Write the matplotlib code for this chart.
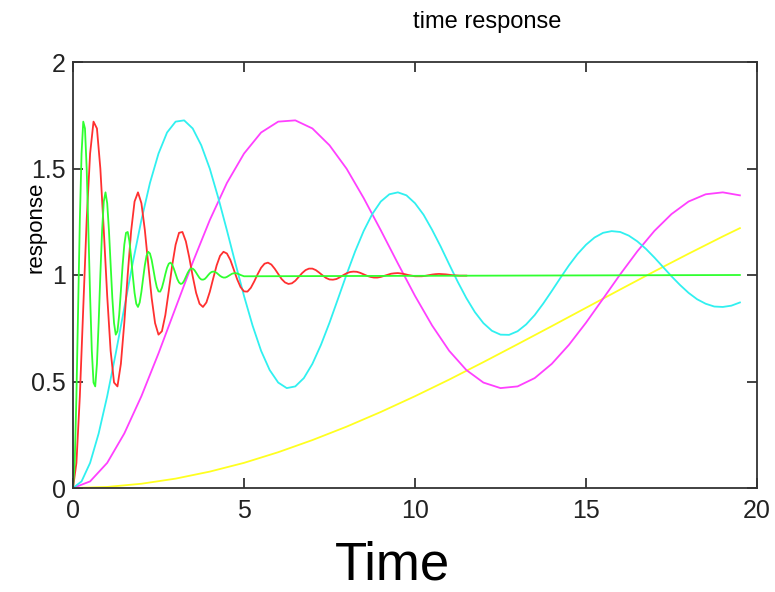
import numpy as np
import matplotlib
matplotlib.use('Agg')
import matplotlib.pyplot as plt

plt.rcParams['font.family'] = ['Liberation Sans', 'DejaVu Sans']

# values
red_t = np.round(np.arange(0, 11.55, 0.1), 2)
red_y = [0.000, 0.118, 0.431, 0.846, 1.258, 1.570, 1.720, 1.688, 1.499, 1.210,
         0.902, 0.644, 0.495, 0.477, 0.583, 0.776, 1.003, 1.207, 1.345, 1.388,
         1.337, 1.212, 1.050, 0.892, 0.774, 0.720, 0.736, 0.812, 0.925, 1.045,
         1.142, 1.198, 1.202, 1.158, 1.082, 0.994, 0.916, 0.865, 0.850, 0.871,
         0.921, 0.984, 1.045, 1.090, 1.109, 1.101, 1.071, 1.026, 0.980, 0.943,
         0.923, 0.922, 0.940, 0.970, 1.004, 1.034, 1.053, 1.058, 1.049, 1.029,
         1.005, 0.981, 0.965, 0.958, 0.961, 0.973, 0.991, 1.009, 1.023, 1.030,
         1.030, 1.023, 1.011, 0.998, 0.986, 0.979, 0.978, 0.981, 0.989, 0.999,
         1.008, 1.014, 1.016, 1.015, 1.010, 1.003, 0.996, 0.991, 0.988, 0.988,
         0.991, 0.996, 1.001, 1.006, 1.008, 1.009, 1.007, 1.004, 1.000, 0.997,
         0.994, 0.994, 0.994, 0.996, 0.999, 1.002, 1.004, 1.005, 1.004, 1.003,
         1.001, 0.999, 0.998, 0.997, 0.997, 0.997]

green_t = list(np.round(np.arange(0, 5.025, 0.05), 2)) + [19.5]
green_y = [0.000, 0.118, 0.431, 0.846, 1.258, 1.570, 1.720, 1.688, 1.499, 1.210,
           0.902, 0.644, 0.495, 0.477, 0.583, 0.776, 1.003, 1.207, 1.345, 1.388,
           1.337, 1.212, 1.050, 0.892, 0.774, 0.720, 0.736, 0.812, 0.925, 1.045,
           1.142, 1.198, 1.202, 1.158, 1.082, 0.994, 0.916, 0.865, 0.850, 0.871,
           0.921, 0.984, 1.045, 1.090, 1.109, 1.101, 1.071, 1.026, 0.980, 0.943,
           0.923, 0.922, 0.940, 0.970, 1.004, 1.034, 1.053, 1.058, 1.049, 1.029,
           1.005, 0.981, 0.965, 0.958, 0.961, 0.973, 0.991, 1.009, 1.023, 1.030,
           1.030, 1.023, 1.011, 0.998, 0.986, 0.979, 0.978, 0.981, 0.989, 0.999,
           1.008, 1.014, 1.016, 1.015, 1.010, 1.003, 0.996, 0.991, 0.988, 0.988,
           0.991, 0.996, 1.001, 1.006, 1.008, 1.009, 1.007, 1.004, 1.000, 0.997,
           0.994, 1.000]

cyan_t = np.arange(0, 19.6, 0.25)
cyan_y = [0.000, 0.031, 0.118, 0.256, 0.431, 0.632, 0.846, 1.059, 1.258, 1.432,
          1.570, 1.669, 1.720, 1.726, 1.688, 1.609, 1.499, 1.361, 1.210, 1.054,
          0.902, 0.763, 0.644, 0.554, 0.495, 0.469, 0.477, 0.516, 0.583, 0.672,
          0.776, 0.889, 1.003, 1.111, 1.207, 1.286, 1.345, 1.379, 1.388, 1.374,
          1.337, 1.283, 1.212, 1.134, 1.050, 0.968, 0.892, 0.826, 0.774, 0.738,
          0.720, 0.719, 0.736, 0.768, 0.812, 0.866, 0.925, 0.986, 1.045, 1.098,
          1.142, 1.176, 1.198, 1.206, 1.202, 1.185, 1.158, 1.123, 1.082, 1.038,
          0.994, 0.953, 0.916, 0.886, 0.865, 0.852, 0.850, 0.856, 0.871]

magenta_t = np.arange(0, 19.6, 0.5)
magenta_y = [0.000, 0.031, 0.118, 0.256, 0.431, 0.632, 0.846, 1.059, 1.258, 1.432,
             1.570, 1.669, 1.720, 1.726, 1.688, 1.609, 1.499, 1.361, 1.210, 1.054,
             0.902, 0.763, 0.644, 0.554, 0.495, 0.469, 0.477, 0.516, 0.583, 0.672,
             0.776, 0.889, 1.003, 1.111, 1.207, 1.286, 1.345, 1.379, 1.388, 1.374]

yellow_t = list(range(0, 20)) + [19.5]
yellow_y = [0.000, 0.005, 0.020, 0.044, 0.077, 0.118, 0.168, 0.225, 0.288, 0.357,
            0.431, 0.509, 0.591, 0.675, 0.760, 0.846, 0.932, 1.017, 1.100, 1.181,
            1.220]

x_ticks = [0, 5, 10, 15, 20]
y_ticks = [0, 0.5, 1, 1.5, 2]
y_labels = ['0', '0.5', '1', '1.5', '2']

fig = plt.figure(figsize=(7.75, 5.92), dpi=100)
ax = fig.add_axes([73/775, 1-488/592, (757-73)/775, (488-62)/592])

ax.plot(yellow_t, yellow_y, color='#ffff20', lw=1.3)
ax.plot(magenta_t, magenta_y, color='#ff40ff', lw=1.3)
ax.plot(cyan_t, cyan_y, color='#30f0f0', lw=1.3)
ax.plot(red_t, red_y, color='#ff3030', lw=1.3)
ax.plot(green_t, green_y, color='#30ff30', lw=1.3)

ax.set_xlim(0, 20)
ax.set_ylim(0, 2)
ax.set_xticks(x_ticks)
ax.set_yticks(y_ticks)
ax.set_yticklabels(y_labels)
ax.tick_params(direction='in', top=True, right=True, length=7, width=1.2,
               labelsize=18, colors='#222222')
ax.tick_params(axis='x', pad=8)
ax.tick_params(axis='y', pad=5)
for s in ax.spines.values():
    s.set_linewidth(1.3)
    s.set_color('#333333')

fig.text(487/775, 1-22/592, 'time response', ha='center', va='center', fontsize=17)
fig.text(393/775, 1-566/592, 'Time', ha='center', va='center', fontsize=38)
fig.text(36/775, 1-227/592, 'response', ha='center', va='center', rotation=90, fontsize=16)

fig.savefig('out.png', dpi=100)
